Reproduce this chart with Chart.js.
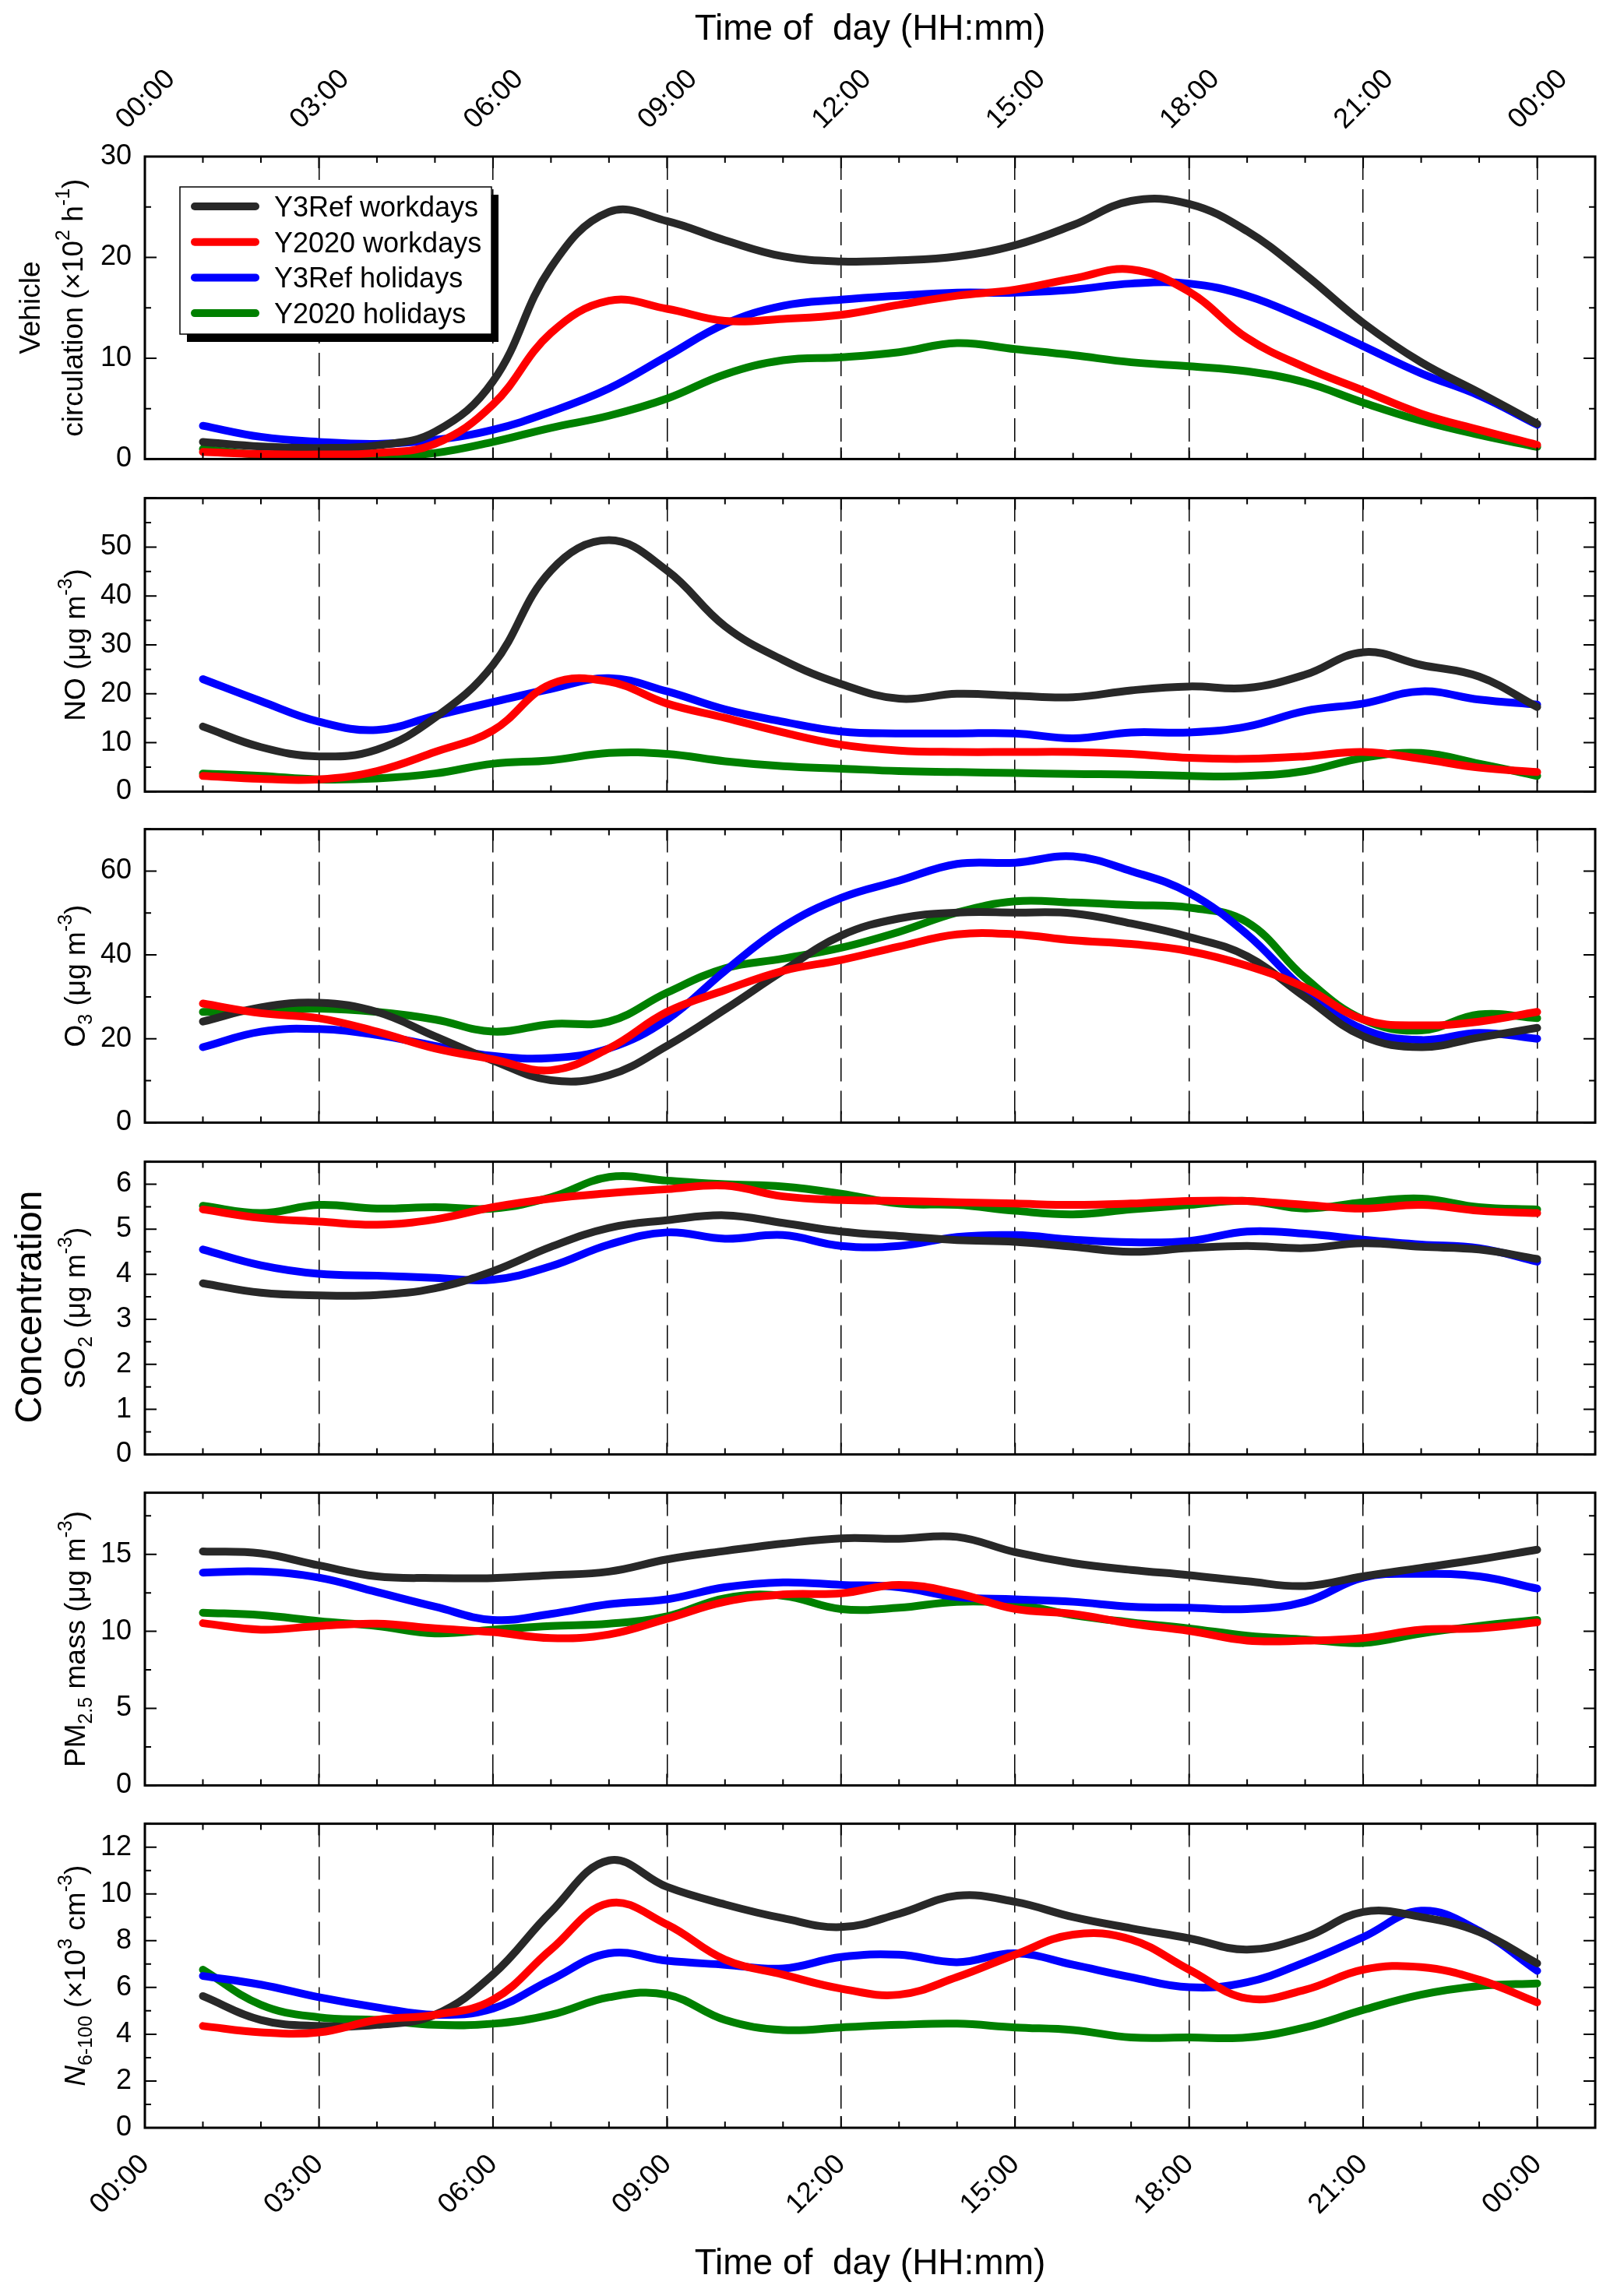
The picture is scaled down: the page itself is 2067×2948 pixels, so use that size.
<!DOCTYPE html>
<html>
<head>
<meta charset="utf-8">
<script src="https://cdn.jsdelivr.net/npm/chart.js@4.4.0/dist/chart.umd.min.js"></script>
<style>
  body { margin: 0; background: #fff; }
  #figura { position: relative; width: 2067px; height: 2948px; background: #fff; }
  .painel { position: absolute; left: 0; }
</style>
</head>
<body>
<div id="figura"></div>
<script>
// Eixo do tempo (horas do dia)
const horas = [1, 2, 3, 4, 5, 6, 7, 8, 9, 10, 11, 12, 13, 14, 15, 16, 17, 18, 19, 20, 21, 22, 23, 24];
const horasMarcadas = [0, 3, 6, 9, 12, 15, 18, 21, 24];
const rotulosHora = ["00:00", "03:00", "06:00", "09:00", "12:00", "15:00", "18:00", "21:00", "00:00"];

const nomesSeries = ["Y3Ref workdays", "Y2020 workdays", "Y3Ref holidays", "Y2020 holidays"];
const coresSeries = ["#282828", "#ff0000", "#0000ff", "#008000"];

// Circulação de veículos (x10^2 h-1)
const veiculosRefUteis = [1.7, 1.25, 1.1, 1.35, 2.7, 7.7, 19.0, 24.5, 23.6, 21.7, 20.1, 19.6, 19.7, 20.1, 21.2, 23.2, 25.6, 25.3, 22.6, 18.3, 13.5, 9.6, 6.6, 3.5];
const veiculos2020Uteis = [0.7, 0.5, 0.45, 0.6, 1.5, 5.4, 12.5, 15.7, 14.9, 13.7, 13.9, 14.3, 15.3, 16.2, 16.8, 17.9, 18.8, 16.6, 12.0, 9.1, 6.8, 4.5, 2.9, 1.4];
const veiculosRefFeriados = [3.3, 2.2, 1.7, 1.5, 1.9, 2.9, 4.7, 7.0, 10.2, 13.4, 15.2, 15.8, 16.2, 16.5, 16.5, 16.8, 17.4, 17.4, 16.2, 13.9, 11.2, 8.5, 6.3, 3.4];
const veiculos2020Feriados = [1.0, 0.4, 0.15, 0.2, 0.6, 1.7, 3.1, 4.3, 6.0, 8.4, 9.8, 10.1, 10.6, 11.5, 10.9, 10.3, 9.6, 9.2, 8.7, 7.6, 5.6, 3.8, 2.4, 1.2];

// NO (ug m-3)
const noRefUteis = [13.3, 9.1, 7.2, 8.6, 15.1, 25.9, 45.2, 51.4, 45.2, 33.8, 26.9, 22.0, 19.0, 20.0, 19.6, 19.3, 20.7, 21.5, 21.2, 23.9, 28.5, 25.9, 23.5, 17.3];
const no2020Uteis = [3.2, 2.6, 2.5, 4.2, 8.1, 12.5, 22.0, 22.5, 18.0, 15.1, 12.1, 9.6, 8.4, 8.1, 8.1, 8.1, 7.7, 6.9, 6.7, 7.2, 8.1, 6.7, 4.9, 4.0];
const noRefFeriados = [23.0, 18.5, 14.3, 12.6, 15.5, 18.3, 21.0, 23.2, 20.5, 16.8, 14.3, 12.3, 11.9, 11.9, 11.9, 10.9, 12.1, 12.1, 13.3, 16.5, 18.0, 20.5, 18.8, 17.8];
const no2020Feriados = [3.7, 3.2, 2.5, 2.7, 3.7, 5.7, 6.4, 7.9, 7.7, 6.2, 5.2, 4.7, 4.2, 4.0, 3.8, 3.6, 3.5, 3.2, 3.2, 4.2, 6.9, 7.9, 5.7, 3.2];

// O3 (ug m-3)
const o3RefUteis = [24.1, 27.5, 28.6, 26.4, 20.6, 14.8, 10.1, 11.3, 18.3, 27.0, 36.2, 44.6, 48.7, 50.1, 50.1, 49.9, 47.5, 44.3, 39.7, 29.9, 20.6, 18.0, 20.3, 22.6];
const o32020Uteis = [28.4, 26.1, 24.9, 21.7, 17.7, 15.1, 12.5, 17.7, 26.4, 31.6, 36.2, 38.8, 42.0, 44.9, 44.9, 43.5, 42.6, 40.9, 37.4, 32.2, 24.6, 23.2, 24.1, 26.4];
const o3RefFeriados = [18.0, 21.7, 22.3, 20.9, 18.3, 15.9, 15.4, 17.7, 24.6, 36.2, 46.7, 53.6, 57.7, 61.7, 62.0, 63.5, 60.0, 54.8, 44.9, 31.6, 22.3, 19.7, 21.4, 20.0];
const o32020Feriados = [26.4, 26.7, 27.2, 26.4, 24.6, 21.7, 23.5, 24.1, 31.0, 36.8, 39.1, 41.7, 45.5, 50.1, 52.8, 52.5, 51.9, 51.3, 47.8, 34.5, 24.6, 22.0, 25.8, 24.9];

// SO2 (ug m-3)
const so2RefUteis = [3.80, 3.59, 3.53, 3.54, 3.69, 4.07, 4.61, 5.03, 5.20, 5.31, 5.14, 4.95, 4.85, 4.76, 4.72, 4.61, 4.50, 4.58, 4.63, 4.58, 4.69, 4.61, 4.55, 4.34];
const so22020Uteis = [5.44, 5.25, 5.17, 5.10, 5.22, 5.49, 5.68, 5.80, 5.89, 5.97, 5.73, 5.65, 5.63, 5.60, 5.57, 5.54, 5.57, 5.63, 5.63, 5.54, 5.46, 5.54, 5.41, 5.36];
const so2RefFeriados = [4.55, 4.20, 4.01, 3.97, 3.92, 3.88, 4.18, 4.66, 4.93, 4.79, 4.87, 4.63, 4.63, 4.83, 4.87, 4.77, 4.71, 4.74, 4.95, 4.90, 4.77, 4.66, 4.58, 4.28];
const so22020Feriados = [5.52, 5.36, 5.54, 5.46, 5.49, 5.46, 5.71, 6.16, 6.08, 6.00, 5.95, 5.79, 5.57, 5.54, 5.41, 5.33, 5.44, 5.54, 5.63, 5.46, 5.60, 5.68, 5.49, 5.44];

// Massa de PM2.5 (ug m-3)
const pmRefUteis = [15.19, 15.06, 14.28, 13.57, 13.46, 13.46, 13.65, 13.88, 14.67, 15.22, 15.69, 16.04, 16.01, 16.13, 15.14, 14.43, 13.99, 13.65, 13.25, 12.94, 13.57, 14.12, 14.67, 15.30];
const pm2020Uteis = [10.53, 10.11, 10.35, 10.50, 10.19, 9.95, 9.56, 9.80, 10.82, 11.92, 12.39, 12.47, 13.02, 12.47, 11.45, 11.13, 10.50, 10.03, 9.40, 9.40, 9.56, 10.11, 10.19, 10.58];
const pmRefFeriados = [13.81, 13.88, 13.49, 12.55, 11.60, 10.74, 11.13, 11.76, 12.08, 12.86, 13.18, 13.02, 12.86, 12.23, 12.08, 11.92, 11.60, 11.53, 11.45, 11.92, 13.49, 13.73, 13.57, 12.78];
const pm2020Feriados = [11.21, 11.05, 10.66, 10.35, 9.87, 10.11, 10.35, 10.50, 10.97, 12.15, 12.31, 11.45, 11.53, 11.92, 11.76, 11.05, 10.58, 10.19, 9.72, 9.48, 9.25, 9.87, 10.35, 10.74];

// N6-100 (x10^3 cm-3)
const nRefUteis = [5.63, 4.61, 4.35, 4.40, 4.83, 6.55, 9.23, 11.43, 10.30, 9.55, 8.96, 8.58, 9.15, 9.92, 9.66, 9.01, 8.53, 8.10, 7.62, 8.15, 9.23, 9.01, 8.37, 7.03];
const n2020Uteis = [4.35, 4.08, 4.08, 4.61, 4.83, 5.47, 7.62, 9.60, 8.69, 7.19, 6.55, 5.95, 5.69, 6.44, 7.40, 8.26, 8.05, 6.76, 5.53, 5.90, 6.76, 6.87, 6.33, 5.36];
const nRefFeriados = [6.49, 6.12, 5.58, 5.15, 4.83, 5.10, 6.33, 7.46, 7.14, 6.97, 6.81, 7.30, 7.40, 7.08, 7.46, 6.97, 6.44, 6.01, 6.22, 7.08, 8.15, 9.28, 8.42, 6.71];
const n2020Feriados = [6.76, 5.26, 4.72, 4.61, 4.40, 4.45, 4.83, 5.58, 5.69, 4.61, 4.18, 4.29, 4.40, 4.45, 4.29, 4.18, 3.86, 3.86, 3.86, 4.29, 5.04, 5.69, 6.06, 6.17];

// Posição dos painéis na página (px)
const topoPaineis = [201, 626, 1051, 1478, 1903, 2328];
const basePaineis = [603, 1030, 1455, 1881, 2306, 2732];

const fonteTitulo = '"Liberation Sans", Arial, sans-serif';
const fonteTicks = { family: fonteTitulo, size: 36 };

const paineis = [
  {
    series: [veiculosRefUteis, veiculos2020Uteis, veiculosRefFeriados, veiculos2020Feriados],
    max: 30, passo: 10, maxRotulo: 30,
    titulo: [
      { x: 51, partes: [{ t: "Vehicle" }] },
      { x: 106, partes: [{ t: "circulation (×10" }, { t: "2", sup: true }, { t: " h" }, { t: "-1", sup: true }, { t: ")" }] }
    ]
  },
  {
    series: [noRefUteis, no2020Uteis, noRefFeriados, no2020Feriados],
    max: 60, passo: 10, maxRotulo: 50,
    titulo: [{ x: 109, partes: [{ t: "NO (μg m" }, { t: "-3", sup: true }, { t: ")" }] }]
  },
  {
    series: [o3RefUteis, o32020Uteis, o3RefFeriados, o32020Feriados],
    max: 70, passo: 20, maxRotulo: 60,
    titulo: [{ x: 109, partes: [{ t: "O" }, { t: "3", sub: true }, { t: " (μg m" }, { t: "-3", sup: true }, { t: ")" }] }]
  },
  {
    series: [so2RefUteis, so22020Uteis, so2RefFeriados, so22020Feriados],
    max: 6.5, passo: 1, maxRotulo: 6,
    titulo: [{ x: 109, partes: [{ t: "SO" }, { t: "2", sub: true }, { t: " (μg m" }, { t: "-3", sup: true }, { t: ")" }] }]
  },
  {
    series: [pmRefUteis, pm2020Uteis, pmRefFeriados, pm2020Feriados],
    max: 19, passo: 5, maxRotulo: 15,
    titulo: [{ x: 109, partes: [{ t: "PM" }, { t: "2.5", sub: true }, { t: " mass (μg m" }, { t: "-3", sup: true }, { t: ")" }] }]
  },
  {
    series: [nRefUteis, n2020Uteis, nRefFeriados, n2020Feriados],
    max: 13, passo: 2, maxRotulo: 12,
    titulo: [{ x: 109, partes: [{ t: "N", italico: true }, { t: "6-100", sub: true }, { t: " (×10" }, { t: "3", sup: true }, { t: " cm" }, { t: "-3", sup: true }, { t: ")" }] }]
  }
];

// ordem de desenho: vermelho por cima, depois preto, azul e verde
const ordemDesenho = [2, 1, 3, 4];

// Texto girado 90° com sub/sobrescritos, centrado em y, linha de base em x
function desenharTextoVertical(ctx, partes, x, y, tamanho) {
  const fonte = p => `${p.italico ? "italic " : ""}${p.sub || p.sup ? Math.round(tamanho * 0.68) : tamanho}px ${fonteTitulo}`;
  ctx.save();
  ctx.translate(x, y);
  ctx.rotate(-Math.PI / 2);
  let total = 0;
  partes.forEach(p => { ctx.font = fonte(p); total += ctx.measureText(p.t).width; });
  let cx = -total / 2;
  ctx.fillStyle = "#000";
  ctx.textAlign = "left";
  ctx.textBaseline = "alphabetic";
  partes.forEach(p => {
    ctx.font = fonte(p);
    const dy = p.sub ? tamanho * 0.24 : p.sup ? -tamanho * 0.45 : 0;
    ctx.fillText(p.t, cx, dy);
    cx += ctx.measureText(p.t).width;
  });
  ctx.restore();
}

function desenharLegenda(ctx, chart) {
  const cx = 231, cy = 240, cw = 400, ch = 189;
  ctx.fillStyle = "#000";
  ctx.fillRect(cx + 9, cy + 10, cw, ch);
  ctx.fillStyle = "#fff";
  ctx.fillRect(cx, cy, cw, ch);
  ctx.lineWidth = 1.5;
  ctx.strokeStyle = "#000";
  ctx.strokeRect(cx, cy, cw, ch);
  chart.data.datasets.forEach((d, k) => {
    const yy = 265 + k * 45.7;
    ctx.strokeStyle = d.borderColor;
    ctx.lineWidth = 10;
    ctx.lineCap = "round";
    ctx.beginPath();
    ctx.moveTo(250, yy);
    ctx.lineTo(328, yy);
    ctx.stroke();
    ctx.fillStyle = "#000";
    ctx.font = `36px ${fonteTitulo}`;
    ctx.textAlign = "left";
    ctx.textBaseline = "alphabetic";
    ctx.fillText(d.label, 352, yy + 13);
  });
}

function pluginMoldura(p, i, topoCanvas) {
  return {
    id: "moldura" + i,
    afterDatasetsDraw(chart) {
      const { ctx, chartArea: a, scales } = chart;
      const x = scales.x, y = scales.y;
      ctx.save();
      ctx.strokeStyle = "#000";
      ctx.lineCap = "butt";
      ctx.lineWidth = 2;
      // marcas de hora para dentro, em cima e embaixo
      for (let h = 0; h <= 25; h++) {
        const px = x.getPixelForValue(h);
        const tam = h % 3 === 0 ? 15 : 8;
        ctx.beginPath();
        ctx.moveTo(px, a.bottom);
        ctx.lineTo(px, a.bottom - tam);
        ctx.moveTo(px, a.top);
        ctx.lineTo(px, a.top + tam);
        ctx.stroke();
      }
      // marcas do eixo y dos dois lados
      const meio = p.passo / 2;
      for (let v = 0; v <= p.max + 1e-9; v += meio) {
        const py = y.getPixelForValue(v);
        const principal = Math.abs(v / p.passo - Math.round(v / p.passo)) < 1e-6;
        const tam = principal ? 15 : 8;
        ctx.beginPath();
        ctx.moveTo(a.left, py);
        ctx.lineTo(a.left + tam, py);
        ctx.moveTo(a.right, py);
        ctx.lineTo(a.right - tam, py);
        ctx.stroke();
      }
      ctx.lineWidth = 3;
      ctx.strokeRect(a.left, a.top, a.right - a.left, a.bottom - a.top);

      // título do eixo y
      const meioY = (a.top + a.bottom) / 2;
      p.titulo.forEach(linha => desenharTextoVertical(ctx, linha.partes, linha.x, meioY, 37));

      if (i === 0) {
        desenharLegenda(ctx, chart);
        ctx.fillStyle = "#000";
        ctx.font = `46px ${fonteTitulo}`;
        ctx.textAlign = "center";
        ctx.textBaseline = "alphabetic";
        ctx.fillText("Time of  day (HH:mm)", 1117, 51);
      }
      if (i === 3) {
        desenharTextoVertical(ctx, [{ t: "Concentration" }], 53, 1678 - topoCanvas, 48);
      }
      if (i === paineis.length - 1) {
        ctx.fillStyle = "#000";
        ctx.font = `46px ${fonteTitulo}`;
        ctx.textAlign = "center";
        ctx.textBaseline = "alphabetic";
        ctx.fillText("Time of  day (HH:mm)", 1117, 2920 - topoCanvas);
      }
      ctx.restore();
    }
  };
}

function criarPainel(p, i) {
  const primeiro = i === 0;
  const ultimo = i === paineis.length - 1;
  const topoCanvas = primeiro ? 0 : topoPaineis[i] - 25;
  const fimCanvas = ultimo ? 2948 : basePaineis[i] + 25;

  const canvas = document.createElement("canvas");
  canvas.className = "painel";
  canvas.width = 2067;
  canvas.height = fimCanvas - topoCanvas;
  canvas.style.top = topoCanvas + "px";
  canvas.style.width = "2067px";
  canvas.style.height = (fimCanvas - topoCanvas) + "px";
  document.getElementById("figura").appendChild(canvas);

  const alturaEixoX = primeiro ? topoPaineis[0] : (ultimo ? 2948 - basePaineis[i] : 0);

  const datasets = p.series.map((serie, k) => ({
    label: nomesSeries[k],
    data: horas.map((h, j) => ({ x: h, y: serie[j] })),
    borderColor: coresSeries[k],
    backgroundColor: coresSeries[k],
    order: ordemDesenho[k]
  }));

  return new Chart(canvas, {
    type: "line",
    data: { datasets },
    options: {
      responsive: false,
      animation: false,
      devicePixelRatio: 1,
      layout: { padding: { left: 0, right: 19, top: primeiro ? 0 : 25, bottom: ultimo ? 0 : 25 } },
      elements: {
        point: { radius: 0 },
        line: { borderWidth: 10, tension: 0.4, borderCapStyle: "round", borderJoinStyle: "round", fill: false }
      },
      plugins: { legend: { display: false }, tooltip: { enabled: false } },
      scales: {
        x: {
          type: "linear",
          position: primeiro ? "top" : "bottom",
          min: 0,
          max: 25,
          afterBuildTicks: s => { s.ticks = horasMarcadas.map(v => ({ value: v })); },
          afterFit: s => { s.height = alturaEixoX; },
          grid: { color: "#000", lineWidth: 1.5, drawTicks: false },
          border: { display: false, dash: [30, 12] },
          ticks: {
            display: primeiro || ultimo,
            minRotation: 45,
            maxRotation: 45,
            padding: 26,
            color: "#000",
            font: fonteTicks,
            callback: v => rotulosHora[horasMarcadas.indexOf(v)]
          }
        },
        y: {
          min: 0,
          max: p.max,
          afterBuildTicks: s => {
            const marcas = [];
            for (let v = 0; v <= p.maxRotulo + 1e-9; v += p.passo) marcas.push({ value: v });
            s.ticks = marcas;
          },
          afterFit: s => { s.width = 186; },
          grid: { display: false, drawTicks: false },
          border: { display: false },
          ticks: { stepSize: p.passo, padding: 17, color: "#000", font: fonteTicks }
        }
      }
    },
    plugins: [pluginMoldura(p, i, topoCanvas)]
  });
}

paineis.forEach((p, i) => criarPainel(p, i));
</script>
</body>
</html>
